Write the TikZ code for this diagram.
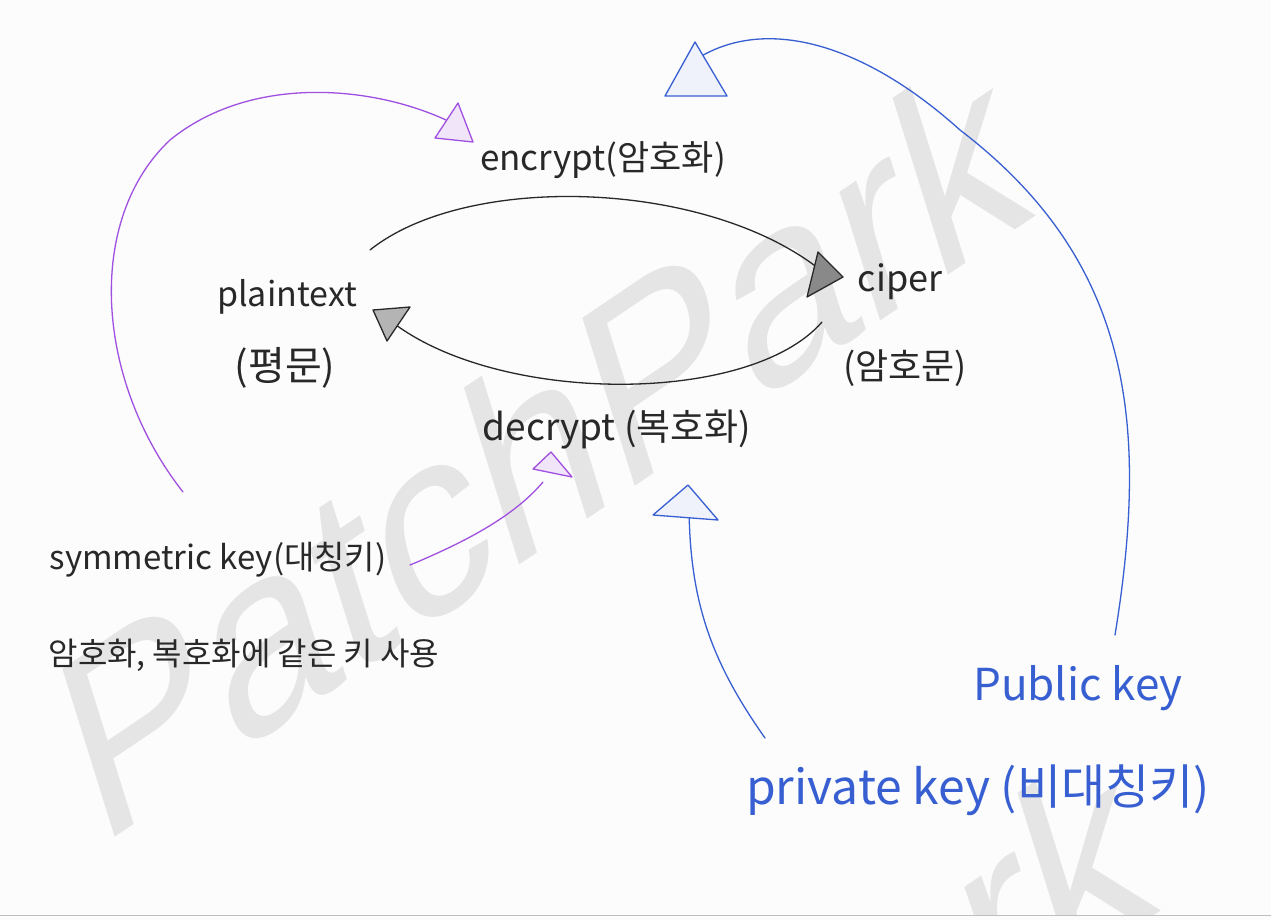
\documentclass[tikz,border=0pt]{standalone}
\usepackage{fontspec}
\setmainfont{Noto Sans CJK KR}
\newfontfamily\wmfont{Liberation Sans}
\definecolor{bgc}{RGB}{252,252,252}
\definecolor{wmgray}{RGB}{229,229,229}
\definecolor{ink}{RGB}{40,40,40}
\definecolor{purp}{RGB}{160,80,225}
\definecolor{bluei}{RGB}{55,95,210}
\newcommand{\fsz}[1]{\fontsize{#1}{#1}\selectfont}
\begin{document}
\begin{tikzpicture}[x=1pt,y=-1pt,
  wm/.style={text=wmgray, font=\wmfont\fsz{245}, inner sep=0pt, rotate=34, xslant=0.3},
  lbl/.style={inner sep=0pt, text=ink},
  blbl/.style={inner sep=0pt, text=bluei},
  curve/.style={line width=1.3pt, line cap=round},
  tri/.style={line width=1.3pt, line join=round}]
\useasboundingbox (0,0) rectangle (1271,920);
\fill[bgc] (0,0) rectangle (1271,920);
\begin{scope}
  \clip (0,0) rectangle (1271,914);
  \node[wm] (wm1) at (540,445) {PatchPark};
  \node[wm] (wm2) at (665,1140) {PatchPark};
\end{scope}
\draw[black!25, line width=1pt] (0,915.5) -- (1271,915.5);

% labels
\node[lbl, font=\fsz{35}] (enc) at (603,160) {encrypt(암호화)};
\node[lbl, font=\fsz{34}] (plain) at (287,297) {plaintext};
\node[lbl, font=\fsz{40}] (plainko) at (285,368) {(평문)};
\node[lbl, font=\fsz{36}] (ciper) at (900,282) {ciper};
\node[lbl, font=\fsz{36}] (ciperko) at (905,368) {(암호문)};
\node[lbl, font=\fsz{37}] (dec) at (617,430) {decrypt (복호화)};
\node[lbl, font=\fsz{33}] (sym) at (218,560) {symmetric key(대칭키)};
\node[lbl, font=\fsz{32}] (note) at (244,655) {암호화, 복호화에 같은 키 사용};
\node[blbl, font=\fsz{44}] (pub) at (1078,688) {Public key};
\node[blbl, font=\fsz{48}] (priv) at (978,790) {private key (비대칭키)};

% coordinates: curve ends and arrowhead triangles
\coordinate (eS) at (370,250);  \coordinate (eT) at (830,278);
\coordinate (dS) at (822,322);  \coordinate (dT) at (392,322);
\coordinate (pS) at (183,492);  \coordinate (pM) at (170,140); \coordinate (pT) at (446,120);
\coordinate (qS) at (410,565);  \coordinate (qT) at (543,482);
\coordinate (rS) at (765,738);  \coordinate (rT) at (689,508);
\coordinate (uS) at (1115,635); \coordinate (uM) at (960,130); \coordinate (uT) at (692,62);

% black connectors
\draw[curve, ink] (eS) .. controls (470,170) and (720,180) .. (eT);
\draw[curve, ink] (dS) .. controls (750,405) and (500,405) .. (dT);
\draw[tri, ink, fill=ink!55] (818,252) -- (807,297) -- (843,277) -- cycle;
\draw[tri, ink, fill=ink!35] (373,310) -- (410,307) -- (387,341) -- cycle;

% purple connectors
\draw[curve, purp] (pS) .. controls (95,380) and (85,220) .. (pM)
                        .. controls (250,75) and (370,85) .. (pT);
\draw[curve, purp] (qS) .. controls (470,540) and (515,515) .. (qT);
\draw[tri, purp, fill=purp!15] (435,138) -- (458,103) -- (473,142) -- cycle;
\draw[tri, purp, fill=purp!15] (551,452) -- (533,469) -- (572,477) -- cycle;

% blue connectors
\draw[curve, bluei] (rS) .. controls (710,660) and (690,600) .. (rT);
\draw[curve, bluei] (uS) .. controls (1150,420) and (1130,260) .. (uM)
                         .. controls (860,40) and (760,15) .. (uT);
\draw[tri, bluei, fill=bluei!8] (688,485) -- (653,515) -- (718,520) -- cycle;
\draw[tri, bluei, fill=bluei!8] (695,42) -- (665,96) -- (727,96) -- cycle;
\end{tikzpicture}
\end{document}
